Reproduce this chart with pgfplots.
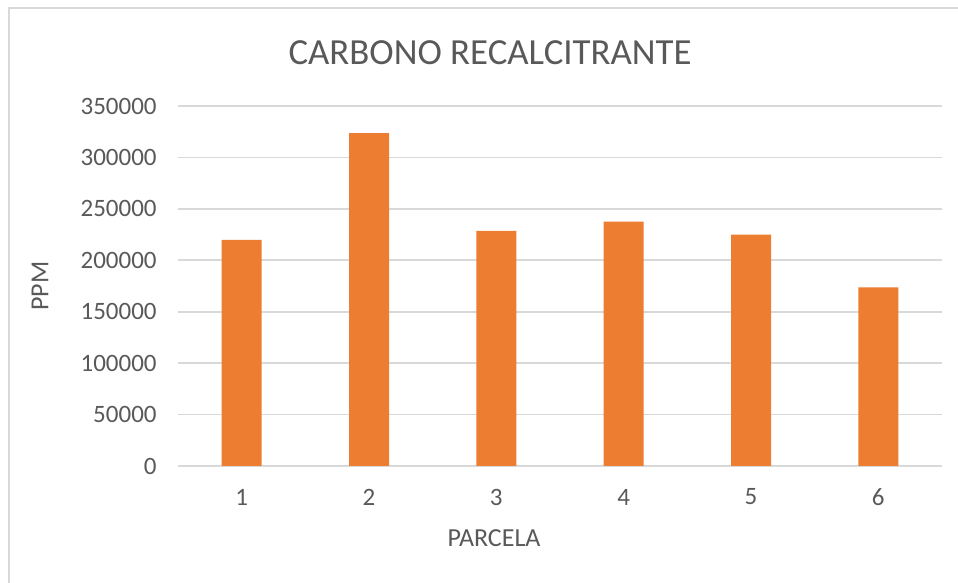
\documentclass[border=0pt]{standalone}
\usepackage{fontspec}
\setmainfont{Carlito}
\usepackage{pgfplots}
\pgfplotsset{compat=1.18}
\definecolor{barc}{HTML}{ED7D31}
\definecolor{gridc}{HTML}{D9D9D9}
\definecolor{txt}{HTML}{595959}
\begin{document}
\begin{tikzpicture}
\useasboundingbox (0,0) rectangle (479pt,291.5pt);
\draw[gridc, line width=1pt] (4.5pt,0) -- (4.5pt,287.5pt) -- (479pt,287.5pt);
\begin{axis}[
  at={(89pt,58.5pt)}, anchor=south west,
  scale only axis, width=382pt, height=180pt,
  xmin=0.5, xmax=6.5, ymin=0, ymax=350000,
  xtick={1,2,3,4,5,6},
  ytick={0,50000,100000,150000,200000,250000,300000,350000},
  scaled y ticks=false,
  /pgf/number format/.cd, fixed, 1000 sep={}, assume math mode=true,
  /pgfplots/.cd,
  axis line style={draw=none},
  major tick length=0pt,
  ymajorgrids, grid style={gridc, line width=0.8pt},
  tick label style={font=\fontsize{12.5}{14}\selectfont, text=txt, inner sep=0pt},
  yticklabel style={anchor=east, xshift=-10.5pt},
  xticklabel style={anchor=center, yshift=-15.5pt},
  clip=false,
]
\addplot[ybar, bar width=20pt, fill=barc, draw=none] coordinates {
 (1,219900) (2,323700) (3,228600) (4,237700) (5,225000) (6,173700)};
\end{axis}
\node[text=txt, font=\fontsize{18.4}{22}\selectfont] at (245pt,265pt) {CARBONO RECALCITRANTE};
\node[text=txt, font=\fontsize{13}{15}\selectfont] at (247pt,22.5pt) {PARCELA};
\node[text=txt, font=\fontsize{13}{15}\selectfont, rotate=90] at (20pt,148.5pt) {PPM};
\end{tikzpicture}
\end{document}
